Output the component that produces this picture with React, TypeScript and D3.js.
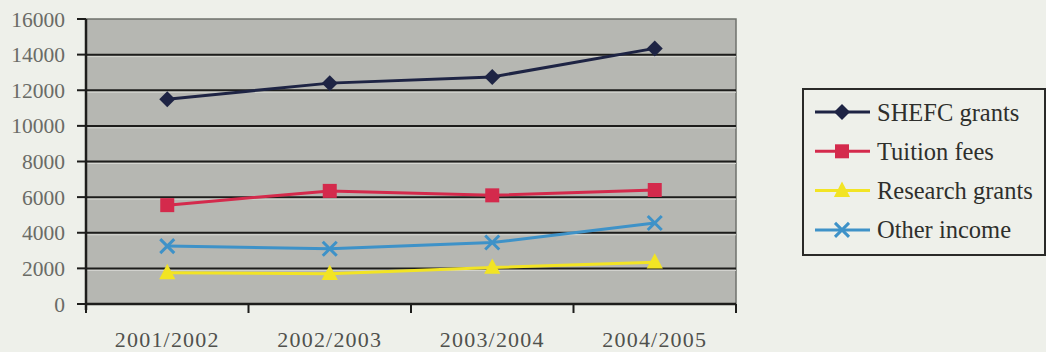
import React from 'react';
import * as d3 from 'd3';

const categories = ['2001/2002', '2002/2003', '2003/2004', '2004/2005'];
const seriesNames = ['SHEFC grants', 'Tuition fees', 'Research grants', 'Other income'];
const shefcGrants = [11500, 12400, 12750, 14350];
const tuitionFees = [5550, 6350, 6100, 6400];
const researchGrants = [1750, 1700, 2050, 2350];
const otherIncome = [3250, 3100, 3450, 4550];
const yTicks = [0, 2000, 4000, 6000, 8000, 10000, 12000, 14000, 16000];

const seriesValues = [shefcGrants, tuitionFees, researchGrants, otherIncome];
const seriesColors = ['#1e2444', '#d42a4c', '#f2e424', '#3e92c8'];
const markerKinds = ['diamond', 'square', 'triangle', 'cross'];

const W = 1046;
const H = 352;
const plot = { left: 86, right: 736, top: 19, bottom: 304 };

function Marker({ kind, x, y, color }: { kind: string; x: number; y: number; color: string }) {
  if (kind === 'diamond') {
    const r = 8;
    return <path d={`M${x},${y - r}L${x + r},${y}L${x},${y + r}L${x - r},${y}Z`} fill={color} />;
  }
  if (kind === 'square') {
    const s = 7;
    return <rect x={x - s} y={y - s} width={s * 2} height={s * 2} fill={color} />;
  }
  if (kind === 'triangle') {
    const r = 9;
    return <path d={`M${x},${y - r}L${x + r * 0.9},${y + r * 0.7}L${x - r * 0.9},${y + r * 0.7}Z`} fill={color} />;
  }
  const c = 7;
  return (
    <path
      d={`M${x - c},${y - c}L${x + c},${y + c}M${x - c},${y + c}L${x + c},${y - c}`}
      stroke={color}
      strokeWidth={3}
      fill="none"
    />
  );
}

export default function App() {
  const x = d3.scaleBand<string>().domain(categories).range([plot.left, plot.right]).padding(0);
  const y = d3.scaleLinear().domain([0, 16000]).range([plot.bottom, plot.top]);
  const cx = (c: string) => (x(c) as number) + x.bandwidth() / 2;

  const line = d3
    .line<number>()
    .x((_, i) => cx(categories[i]))
    .y((v) => y(v));

  const boundaries = [...categories.map((c) => x(c) as number), plot.right];
  const serif = '"Liberation Serif", "DejaVu Serif", serif';

  const legend = { x: 803, y: 89, w: 242, h: 166, row0: 112, rowGap: 39.3 };

  return (
    <svg
      width={W}
      height={H}
      style={{ position: 'absolute', left: 0, top: 0, display: 'block', fontFamily: serif }}
    >
      <rect x={0} y={0} width={W} height={H} fill="#eef0ea" />

      {/* plot area */}
      <rect
        x={plot.left}
        y={plot.top}
        width={plot.right - plot.left}
        height={plot.bottom - plot.top}
        fill="#b6b7b2"
        stroke="#6f716c"
        strokeWidth={1.5}
      />

      {/* horizontal gridlines */}
      {yTicks.slice(1, -1).map((t) => (
        <g key={t}>
          <line x1={plot.left} x2={plot.right} y1={y(t)} y2={y(t)} stroke="#1d1d1b" strokeWidth={2} />
          <line x1={plot.left} x2={plot.right} y1={y(t) + 2} y2={y(t) + 2} stroke="#d6d7d2" strokeWidth={1} />
        </g>
      ))}

      {/* y axis */}
      <line x1={plot.left} x2={plot.left} y1={plot.top} y2={plot.bottom + 6} stroke="#1d1d1b" strokeWidth={2.5} />
      {yTicks.map((t) => (
        <g key={t}>
          <line x1={plot.left - 9} x2={plot.left} y1={y(t)} y2={y(t)} stroke="#1d1d1b" strokeWidth={2} />
          <text x={65} y={y(t)} dy="0.35em" textAnchor="end" fontSize={21.5} fill="#6a6b66">
            {t}
          </text>
        </g>
      ))}

      {/* x axis */}
      <line x1={plot.left} x2={plot.right} y1={plot.bottom} y2={plot.bottom} stroke="#1d1d1b" strokeWidth={2.5} />
      {boundaries.map((b, i) => (
        <line key={i} x1={b} x2={b} y1={plot.bottom} y2={plot.bottom + 9} stroke="#1d1d1b" strokeWidth={2} />
      ))}
      {categories.map((c) => (
        <text key={c} x={cx(c)} y={347} textAnchor="middle" fontSize={22} letterSpacing={1.2} fill="#50514d">
          {c}
        </text>
      ))}

      {/* series */}
      {seriesValues.map((vals, si) => (
        <g key={seriesNames[si]}>
          <path d={line(vals) ?? ''} fill="none" stroke={seriesColors[si]} strokeWidth={3} />
          {vals.map((v, i) => (
            <Marker key={i} kind={markerKinds[si]} x={cx(categories[i])} y={y(v)} color={seriesColors[si]} />
          ))}
        </g>
      ))}

      {/* legend */}
      <rect x={legend.x} y={legend.y} width={legend.w} height={legend.h} fill="#eef0ea" stroke="#2a2a28" strokeWidth={2} />
      {seriesNames.map((name, si) => {
        const ry = legend.row0 + si * legend.rowGap;
        return (
          <g key={name}>
            <line x1={815} x2={870} y1={ry} y2={ry} stroke={seriesColors[si]} strokeWidth={3} />
            <Marker kind={markerKinds[si]} x={842} y={ry} color={seriesColors[si]} />
            <text x={877} y={ry} dy="0.35em" fontSize={24.5} fill="#2e2f2c">
              {name}
            </text>
          </g>
        );
      })}
    </svg>
  );
}
